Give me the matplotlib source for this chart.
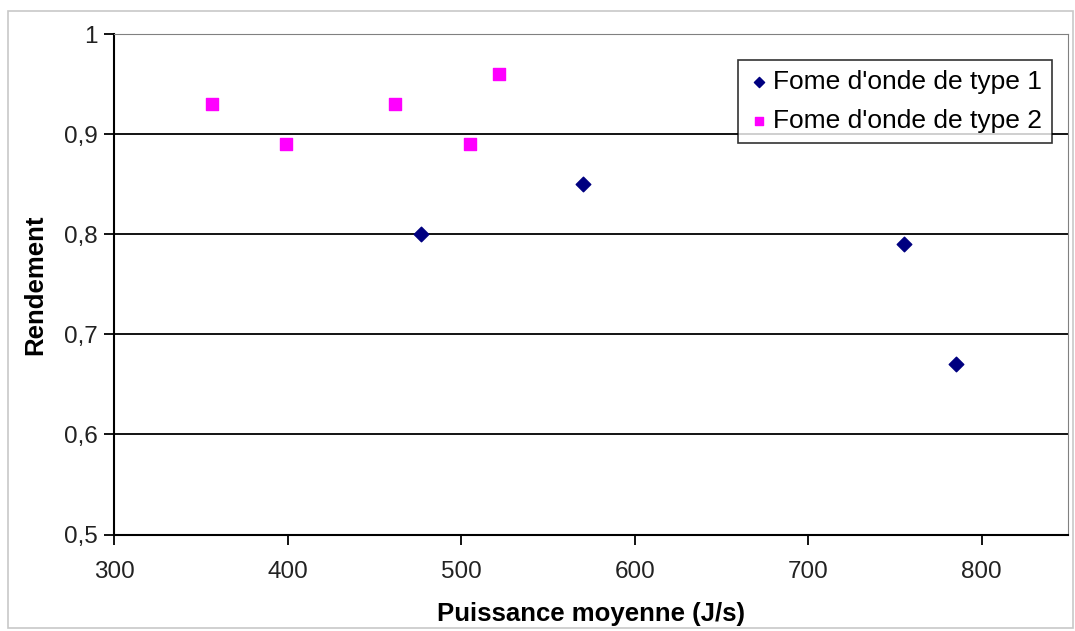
import matplotlib
matplotlib.use('Agg')
from matplotlib import pyplot as plt
from matplotlib.patches import Rectangle
from matplotlib.ticker import FuncFormatter

plt.rcParams['font.family'] = ['Liberation Sans', 'DejaVu Sans']

# donnees
x_type1 = [477, 570, 755, 785]
y_type1 = [0.80, 0.85, 0.79, 0.67]
x_type2 = [356, 399, 462, 505, 522]
y_type2 = [0.93, 0.89, 0.93, 0.89, 0.96]
label1 = "Fome d'onde de type 1"
label2 = "Fome d'onde de type 2"

fig = plt.figure(figsize=(10.75, 6.31), dpi=100)
ax = fig.add_axes([0.1065, 0.1529, 0.8873, 0.7927])

# cadre gris autour du graphique
fig.patches.append(Rectangle((0.0075, 0.004), 0.9905, 0.978, transform=fig.transFigure,
                             fill=False, edgecolor='#c8c8c8', lw=1.2))

ax.scatter(x_type1, y_type1, marker='D', s=55, color='#000080', label=label1, zorder=3)
ax.scatter(x_type2, y_type2, marker='s', s=85, color='#ff00ff', label=label2, zorder=3)

ax.set_xlim(300, 850)
ax.set_ylim(0.5, 1.0)
ax.set_xticks([300, 400, 500, 600, 700, 800])
ax.set_yticks([0.5, 0.6, 0.7, 0.8, 0.9, 1.0])
ax.yaxis.set_major_formatter(FuncFormatter(lambda v, p: ('%g' % round(v, 1)).replace('.', ',')))

ax.grid(axis='y', color='black', lw=1.3, zorder=1)
ax.set_axisbelow(True)
ax.spines['left'].set_color('black')
ax.spines['bottom'].set_color('black')
ax.spines['left'].set_linewidth(1.5)
ax.spines['bottom'].set_linewidth(1.5)
ax.spines['top'].set_color('#808080')
ax.spines['right'].set_color('#808080')
ax.tick_params(axis='both', direction='out', length=7, width=1.3, labelsize=17.5,
               labelcolor='#222222', pad=5)
ax.tick_params(axis='x', pad=12)

ax.set_xlabel('Puissance moyenne (J/s)', fontsize=18.5, fontweight='bold', labelpad=14)
ax.set_ylabel('Rendement', fontsize=18.5, fontweight='bold', labelpad=12)

leg = ax.legend(loc='upper right', bbox_to_anchor=(0.983, 0.9486), fontsize=19,
                frameon=True, fancybox=False, handletextpad=0.15, handlelength=0.8,
                borderpad=0.38, labelspacing=0.55, markerscale=0.7, borderaxespad=0)
leg.get_frame().set_edgecolor('black')
leg.get_frame().set_linewidth(1.2)

plt.savefig('out.png', dpi=100)
